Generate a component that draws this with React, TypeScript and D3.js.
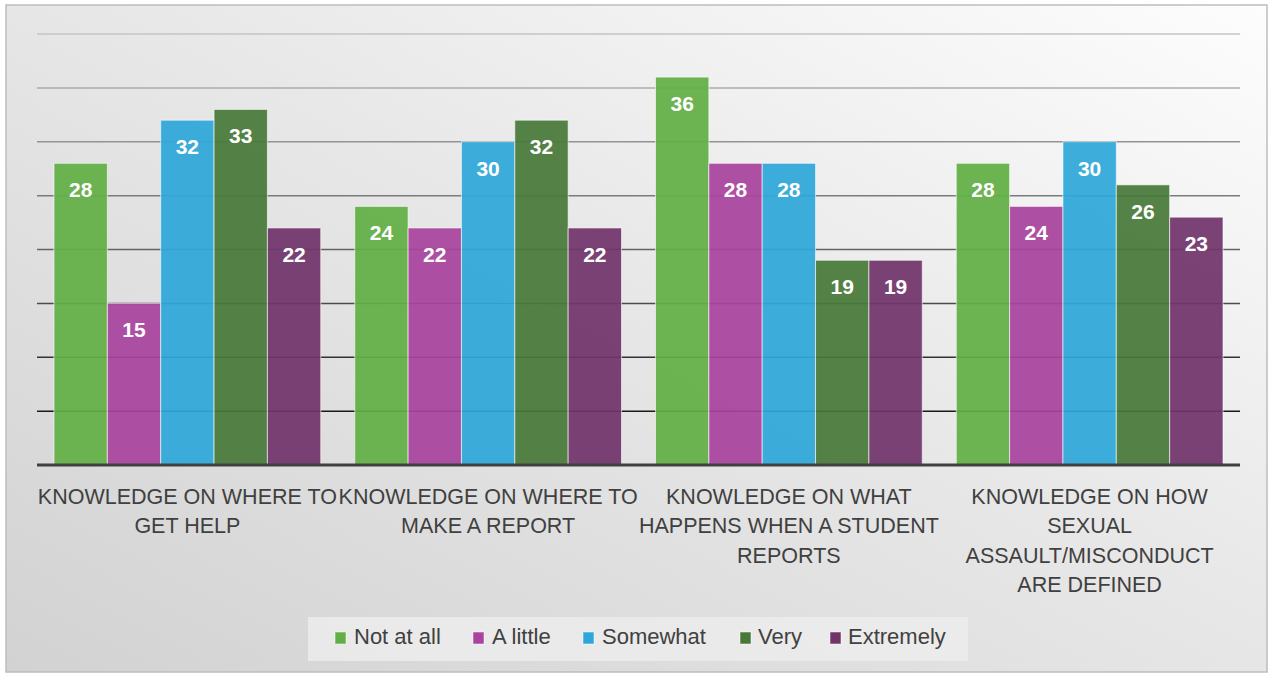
import * as d3 from "d3";
import React from "react";

const categories = [
  ["KNOWLEDGE ON WHERE TO", "GET HELP"],
  ["KNOWLEDGE ON WHERE TO", "MAKE A REPORT"],
  ["KNOWLEDGE ON WHAT", "HAPPENS WHEN A STUDENT", "REPORTS"],
  ["KNOWLEDGE ON HOW", "SEXUAL", "ASSAULT/MISCONDUCT", "ARE DEFINED"],
];
const seriesNames = ["Not at all", "A little", "Somewhat", "Very", "Extremely"];
const seriesColors = ["#62ae46", "#a8449e", "#2ea7d8", "#487838", "#71356a"];
const notAtAll = [28, 24, 36, 28];
const aLittle = [15, 22, 28, 24];
const somewhat = [32, 30, 28, 30];
const very = [33, 32, 19, 26];
const extremely = [22, 22, 19, 23];
const yTicks = [0, 5, 10, 15, 20, 25, 30, 35, 40];

const series = [notAtAll, aLittle, somewhat, very, extremely];
const font = "'Liberation Sans', Arial, sans-serif";

const App = () => {
  const width = 1271, height = 674;
  const left = 37, right = 1240, top = 34, bottom = 465;

  const x0 = d3.scaleBand<number>()
    .domain(d3.range(categories.length))
    .range([left, right])
    .paddingInner(0)
    .paddingOuter(0);
  const inner = 17 / x0.bandwidth();
  const x1 = d3.scaleBand<number>()
    .domain(d3.range(seriesNames.length))
    .range([x0.bandwidth() * inner, x0.bandwidth() * (1 - inner)]);
  const y = d3.scaleLinear().domain([0, 40]).range([bottom, top]);
  const gridColor = d3.scaleLinear<string>().domain([40, 5]).range(["#c4c4c4", "#1a1a1a"]);

  // legend marker / label x positions
  const legendX = [335, 473, 583, 740, 830];
  const legendText = [354, 492, 602, 758, 848];

  return (
    <svg width={width} height={height} style={{ position: "absolute", left: 0, top: 0 }}>
      <defs>
        <linearGradient id="bg" x1="1" y1="0" x2="0" y2="1">
          <stop offset="0" stopColor="#fdfdfd" />
          <stop offset="0.45" stopColor="#e8e8e8" />
          <stop offset="1" stopColor="#d2d2d2" />
        </linearGradient>
      </defs>
      <rect x={6} y={5} width={1261} height={667} fill="url(#bg)" stroke="#bdbdbd" strokeWidth={1.5} />

      {yTicks.filter(t => t > 0).map(t => (
        <line key={t} x1={left} x2={right} y1={y(t)} y2={y(t)} stroke={gridColor(t)} strokeWidth={1.5} />
      ))}

      {categories.map((c, ci) => (
        <g key={ci} transform={`translate(${x0(ci)},0)`}>
          {series.map((s, si) => (
            <g key={si}>
              <rect x={x1(si)} y={y(s[ci])} width={x1.bandwidth()} height={y(0) - y(s[ci])}
                fill={seriesColors[si]} fillOpacity={0.93} stroke="#ffffff" strokeOpacity={0.6} strokeWidth={1} />
              <text x={(x1(si) as number) + x1.bandwidth() / 2} y={y(s[ci]) + 34} textAnchor="middle"
                fill="#ffffff" fontFamily={font} fontWeight="bold" fontSize={21}>{s[ci]}</text>
            </g>
          ))}
          {c.map((line, li) => (
            <text key={li} x={x0.bandwidth() / 2} y={504 + li * 29.4} textAnchor="middle"
              fill="#404040" fontFamily={font} fontSize={21.5}>{line}</text>
          ))}
        </g>
      ))}

      <line x1={left} x2={right} y1={bottom} y2={bottom} stroke="#404040" strokeWidth={3} />

      <rect x={308} y={617} width={660} height={44} fill="#ececec" fillOpacity={0.85} />
      {seriesNames.map((n, i) => (
        <g key={n}>
          <rect x={legendX[i]} y={632} width={11} height={12} fill={seriesColors[i]} stroke="#ffffff" strokeOpacity={0.5} />
          <text x={legendText[i]} y={644} fill="#404040" fontFamily={font} fontSize={22}>{n}</text>
        </g>
      ))}
    </svg>
  );
};

export default App;
